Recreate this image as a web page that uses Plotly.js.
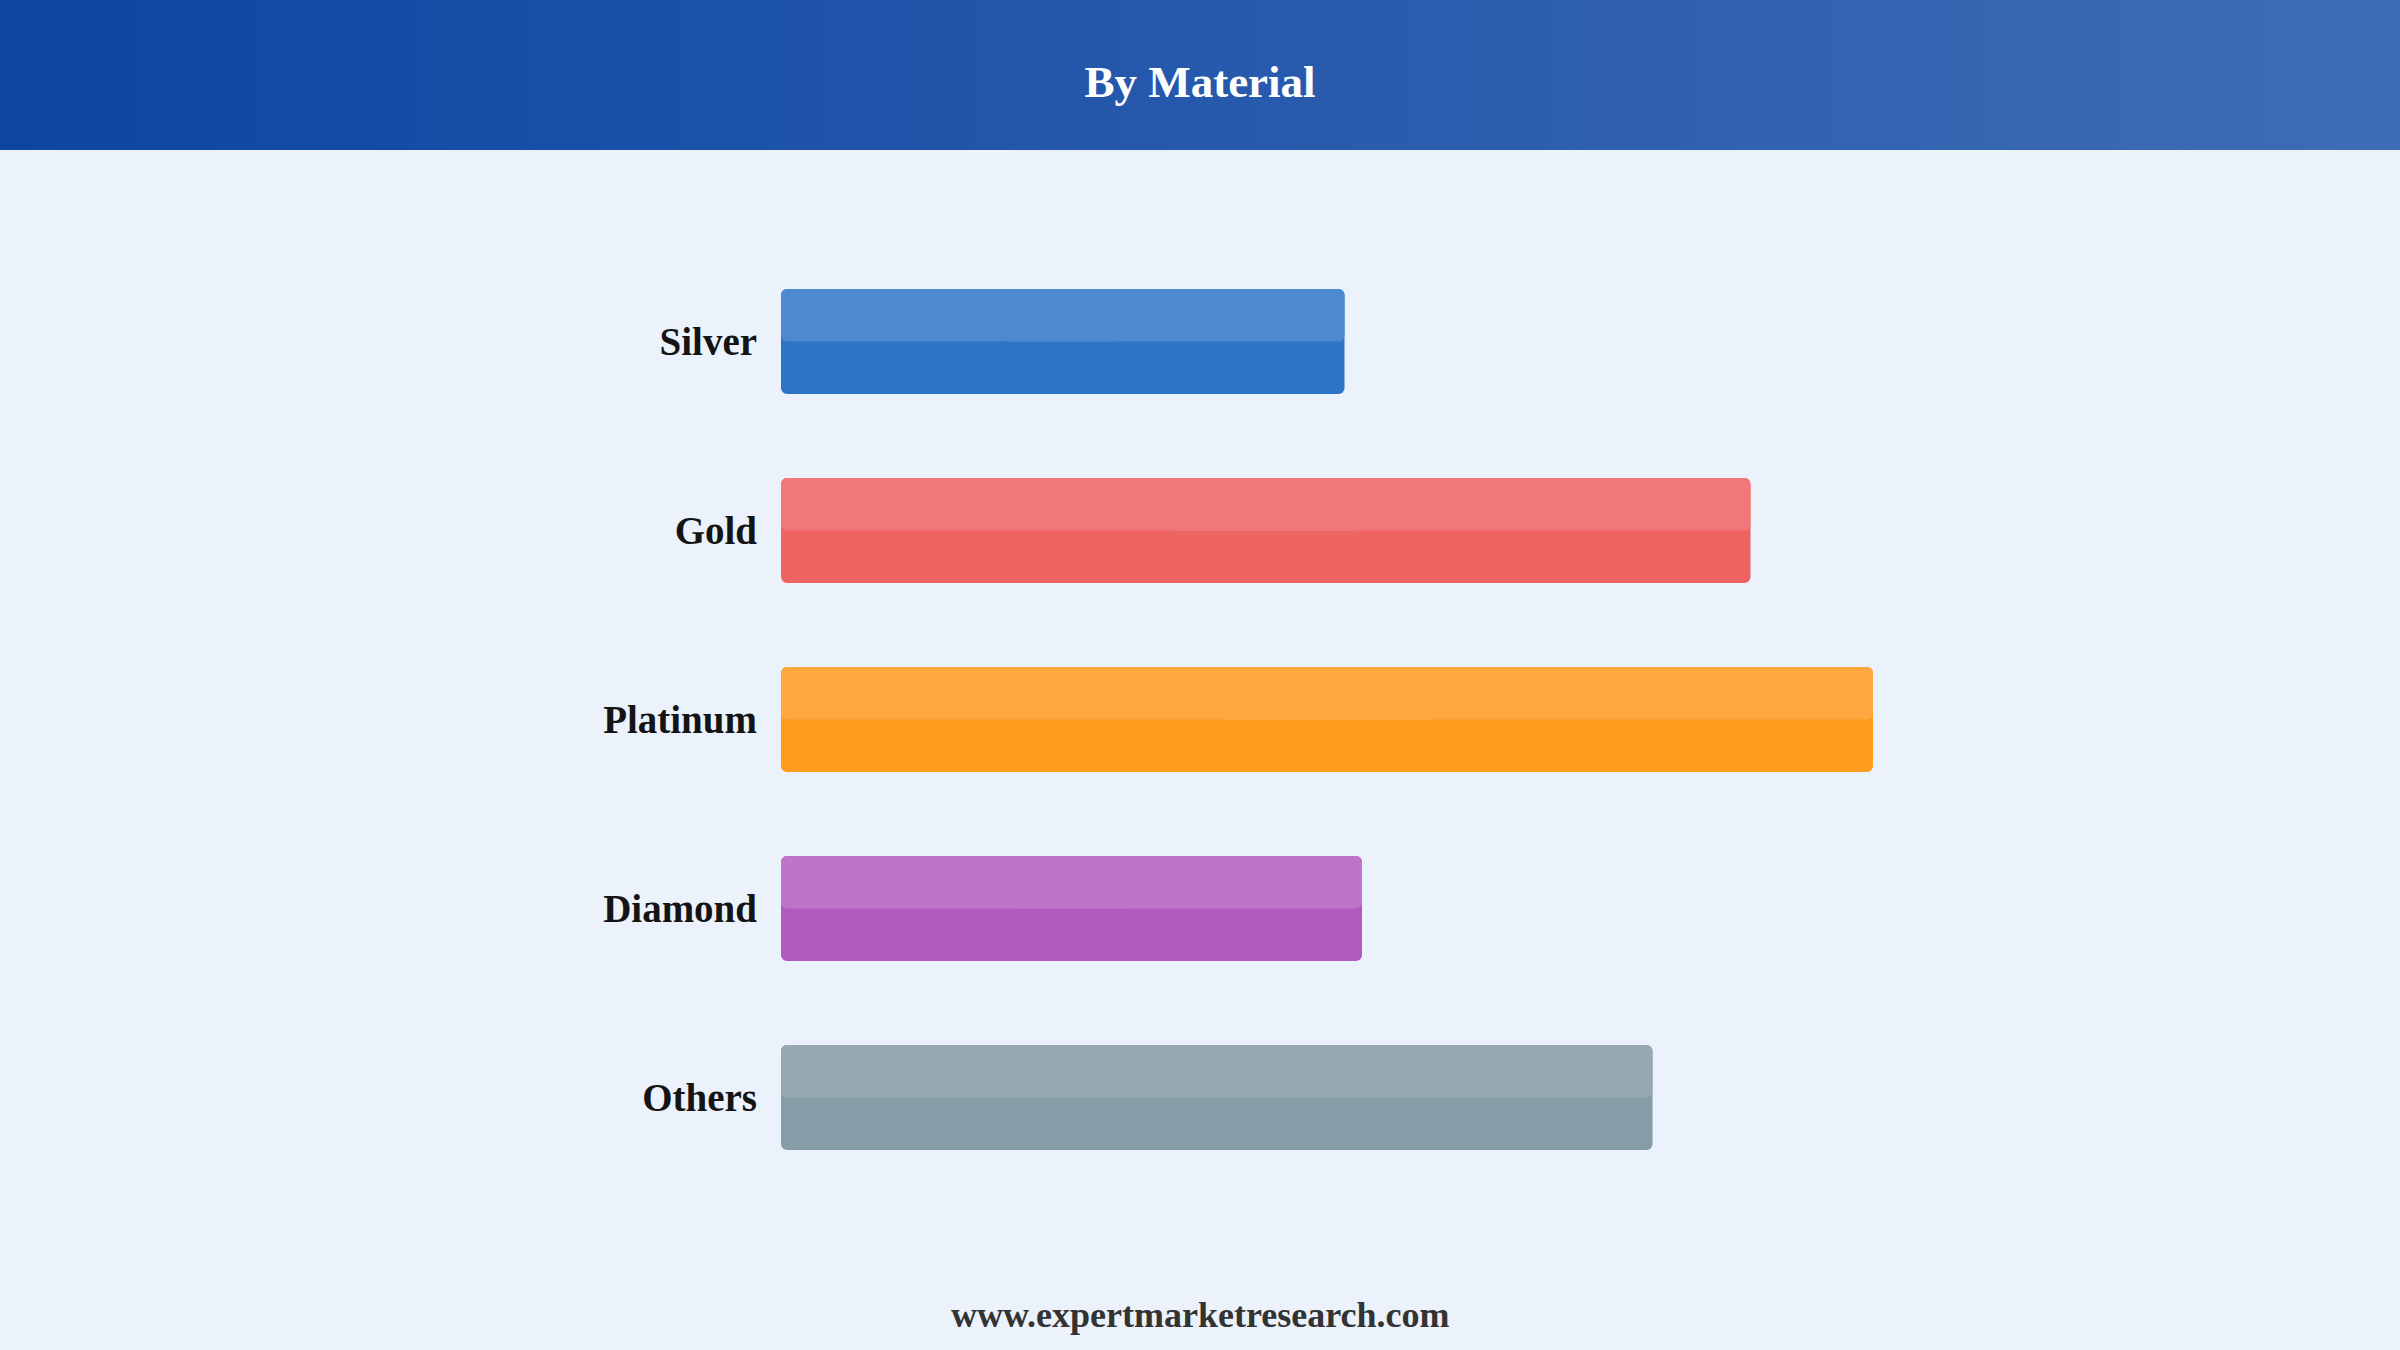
<!DOCTYPE html>
<html>
<head>
<meta charset="utf-8">
<script src="https://cdn.plot.ly/plotly-3.0.1.min.js"></script>
<style>
  html, body { margin: 0; padding: 0; background: #EBF2FB; }
  #wrap { position: relative; width: 2400px; height: 1350px; overflow: hidden; }
  #header { position: absolute; left: 0; top: 0; width: 2400px; height: 150px;
            background: linear-gradient(90deg, #0C46A2 0%, #2659AC 50%, #3E6DB5 100%); }
  #chart { position: absolute; left: 0; top: 0; width: 2400px; height: 1350px; }
</style>
</head>
<body>
<div id="wrap">
  <div id="header"></div>
  <div id="chart"></div>
</div>
<script>
// ---- data ----
const categories = ["Silver", "Gold", "Platinum", "Diamond", "Others"];
const values = [16.1, 27.7, 31.2, 16.6, 24.9];
const darkColors = ["#2B74C6", "#EE6462", "#FD9B1E", "#B05ABF", "#869CA6"];
const lightColors = ["#4D89CE", "#F07878", "#FEA83F", "#BF73CB", "#97A8B1"];
const titleText = "By Material";
const footerText = "www.expertmarketresearch.com";

// ---- layout constants ----
const W = 2400, H = 1350;
const m = { l: 781, r: 219, t: 247, b: 158 };
const plotW = W - m.l - m.r, plotH = H - m.t - m.b;
const barW = 0.555;
const serif = "Liberation Serif, Times New Roman, serif";
const radius = 6;

// Each bar is drawn as two overlapping pieces so that both ends get rounded corners:
// a left piece growing from its base toward 0 (rounded at the left end) and a
// right piece growing from its base toward the value (rounded at the right end).
function pieces(colors, width) {
  const leftPiece = {
    type: "bar", orientation: "h",
    y: categories,
    base: values.map(v => v * 0.6),
    x: values.map(v => -v * 0.6),
    width: width, offset: -barW / 2,
    marker: { color: colors, cornerradius: radius, line: { width: 0 } },
    hoverinfo: "skip", showlegend: false
  };
  const rightPiece = {
    type: "bar", orientation: "h",
    y: categories,
    base: values.map(v => v * 0.4),
    x: values.map(v => v * 0.6),
    width: width, offset: -barW / 2,
    marker: { color: colors, cornerradius: radius, line: { width: 0 } },
    hoverinfo: "skip", showlegend: false
  };
  return [leftPiece, rightPiece];
}

const traces = [
  ...pieces(darkColors, barW),
  ...pieces(lightColors, barW / 2)
];

const layout = {
  width: W, height: H,
  margin: m,
  paper_bgcolor: "rgba(0,0,0,0)",
  plot_bgcolor: "rgba(0,0,0,0)",
  barmode: "overlay",
  showlegend: false,
  title: {
    text: titleText,
    font: { family: serif, size: 45, color: "#FFFFFF", weight: "bold" },
    x: 0.5, xref: "container", xanchor: "center",
    y: 1 - 81 / H, yref: "container", yanchor: "middle"
  },
  xaxis: {
    range: [0, 40], visible: false, showgrid: false, zeroline: false, fixedrange: true
  },
  yaxis: {
    type: "category",
    autorange: "reversed",
    showgrid: false, zeroline: false, showline: false,
    ticks: "", ticklabelstandoff: 23,
    tickfont: { family: serif, size: 39, color: "#141414", weight: "bold" },
    fixedrange: true
  },
  annotations: [
    {
      text: footerText,
      xref: "paper", yref: "paper",
      x: (1200 - m.l) / plotW,
      y: (H - 1315 - m.b) / plotH,
      xanchor: "center", yanchor: "middle",
      showarrow: false,
      font: { family: serif, size: 36, color: "#333333", weight: "bold" }
    }
  ]
};

Plotly.newPlot("chart", traces, layout, { displayModeBar: false, staticPlot: true });
</script>
</body>
</html>
